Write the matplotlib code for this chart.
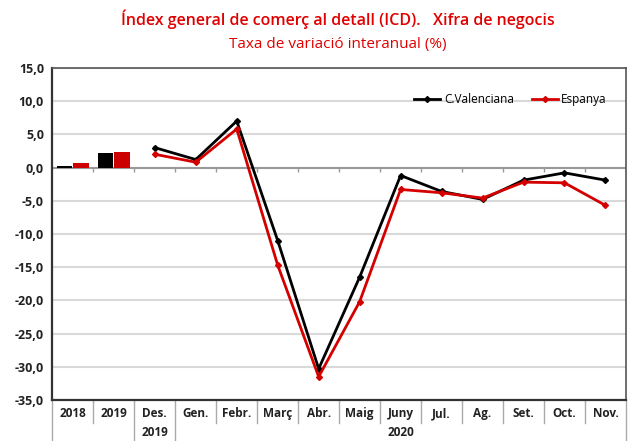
import matplotlib
matplotlib.use('Agg')
import matplotlib.pyplot as plt
import matplotlib.transforms as mtransforms
import numpy as np

plt.rcParams['font.family'] = ['Open Sans', 'DejaVu Sans']

# categories on the x axis
cats = ['2018', '2019', 'Des.', 'Gen.', 'Febr.', 'Març', 'Abr.', 'Maig',
        'Juny', 'Jul.', 'Ag.', 'Set.', 'Oct.', 'Nov.']
# annual bars
bar_cv = [0.2, 2.2]
bar_esp = [0.7, 2.3]
# monthly lines (Des. 2019 .. Nov. 2020)
line_cv = [3.0, 1.2, 7.0, -11.0, -30.3, -16.5, -1.2, -3.6, -4.8, -1.9, -0.8, -1.9]
line_esp = [2.0, 0.8, 5.8, -14.7, -31.5, -20.2, -3.3, -3.8, -4.6, -2.2, -2.3, -5.7]
yticks = [-35, -30, -25, -20, -15, -10, -5, 0, 5, 10, 15]

RED = '#e00000'
fig = plt.figure(figsize=(6.31, 4.41), dpi=100)
ax = fig.add_axes([0.083, 0.093, 0.909, 0.753])

x = np.arange(len(cats))
xb = x[:2]
ax.bar(xb - 0.2, bar_cv, width=0.37, color='black', zorder=3)
ax.bar(xb + 0.2, bar_esp, width=0.37, color='#cc0000', zorder=3)

xl = x[2:]
ax.plot(xl, line_cv, color='black', lw=2, marker='D', ms=3, label='C.Valenciana', zorder=4)
ax.plot(xl, line_esp, color='#d40000', lw=2, marker='D', ms=3, label='Espanya', zorder=4)

ax.set_xlim(-0.5, len(cats) - 0.5)
ax.set_ylim(-35, 15)
ax.set_yticks(yticks)
ax.set_yticklabels([f'{v:.1f}'.replace('.', ',') for v in yticks],
                   fontsize=9, fontweight='bold', color='#222222')
ax.tick_params(axis='y', length=0, pad=6)
ax.set_xticks([])
ax.yaxis.grid(True, color='#d9d9d9', lw=1.5, zorder=0)
ax.set_axisbelow(True)

for s in ax.spines.values():
    s.set_color('#555555')
    s.set_linewidth(1.2)
ax.spines['left'].set_color('#333333')
ax.spines['left'].set_linewidth(1.6)
ax.spines['bottom'].set_color('#333333')
ax.spines['bottom'].set_linewidth(1.6)

# zero line with small ticks
ax.axhline(0, color='#999999', lw=1.5, zorder=2)
bounds = x[1:] - 0.5
ax.vlines(bounds, -0.6, 0, color='#999999', lw=1, zorder=2)

# category labels and separators below the axis
trans = mtransforms.blended_transform_factory(ax.transData, ax.transAxes)
for i, c in enumerate(cats):
    ax.text(i, -0.022, c, transform=trans, ha='center', va='top',
            fontsize=8.5, fontweight='bold', color='#222222')
ax.text(2, -0.078, '2019', transform=trans, ha='center', va='top',
        fontsize=8.5, fontweight='bold', color='#222222')
ax.text((3 + len(cats) - 1) / 2, -0.078, '2020', transform=trans, ha='center', va='top',
        fontsize=8.5, fontweight='bold', color='#222222')
for b in bounds:
    low = -0.15 if b in (1.5, 2.5) else -0.07
    ax.plot([b, b], [0, low], transform=trans, color='#aaaaaa', lw=1, clip_on=False)
for b in (-0.5, len(cats) - 0.5):
    ax.plot([b, b], [0, -0.15], transform=trans, color='#aaaaaa', lw=1, clip_on=False)

ax.legend(loc='upper right', bbox_to_anchor=(0.985, 0.955), ncol=2, frameon=False,
          fontsize=8.5, handlelength=2.2, columnspacing=1.5, handletextpad=0.3)

fig.text(0.536, 0.957, 'Índex general de comerç al detall (ICD).   Xifra de negocis',
         ha='center', va='center', color=RED, fontsize=11.5, fontweight='semibold')
fig.text(0.536, 0.9, 'Taxa de variació interanual (%)',
         ha='center', va='center', color=RED, fontsize=11)

fig.savefig('out.png', dpi=100)
